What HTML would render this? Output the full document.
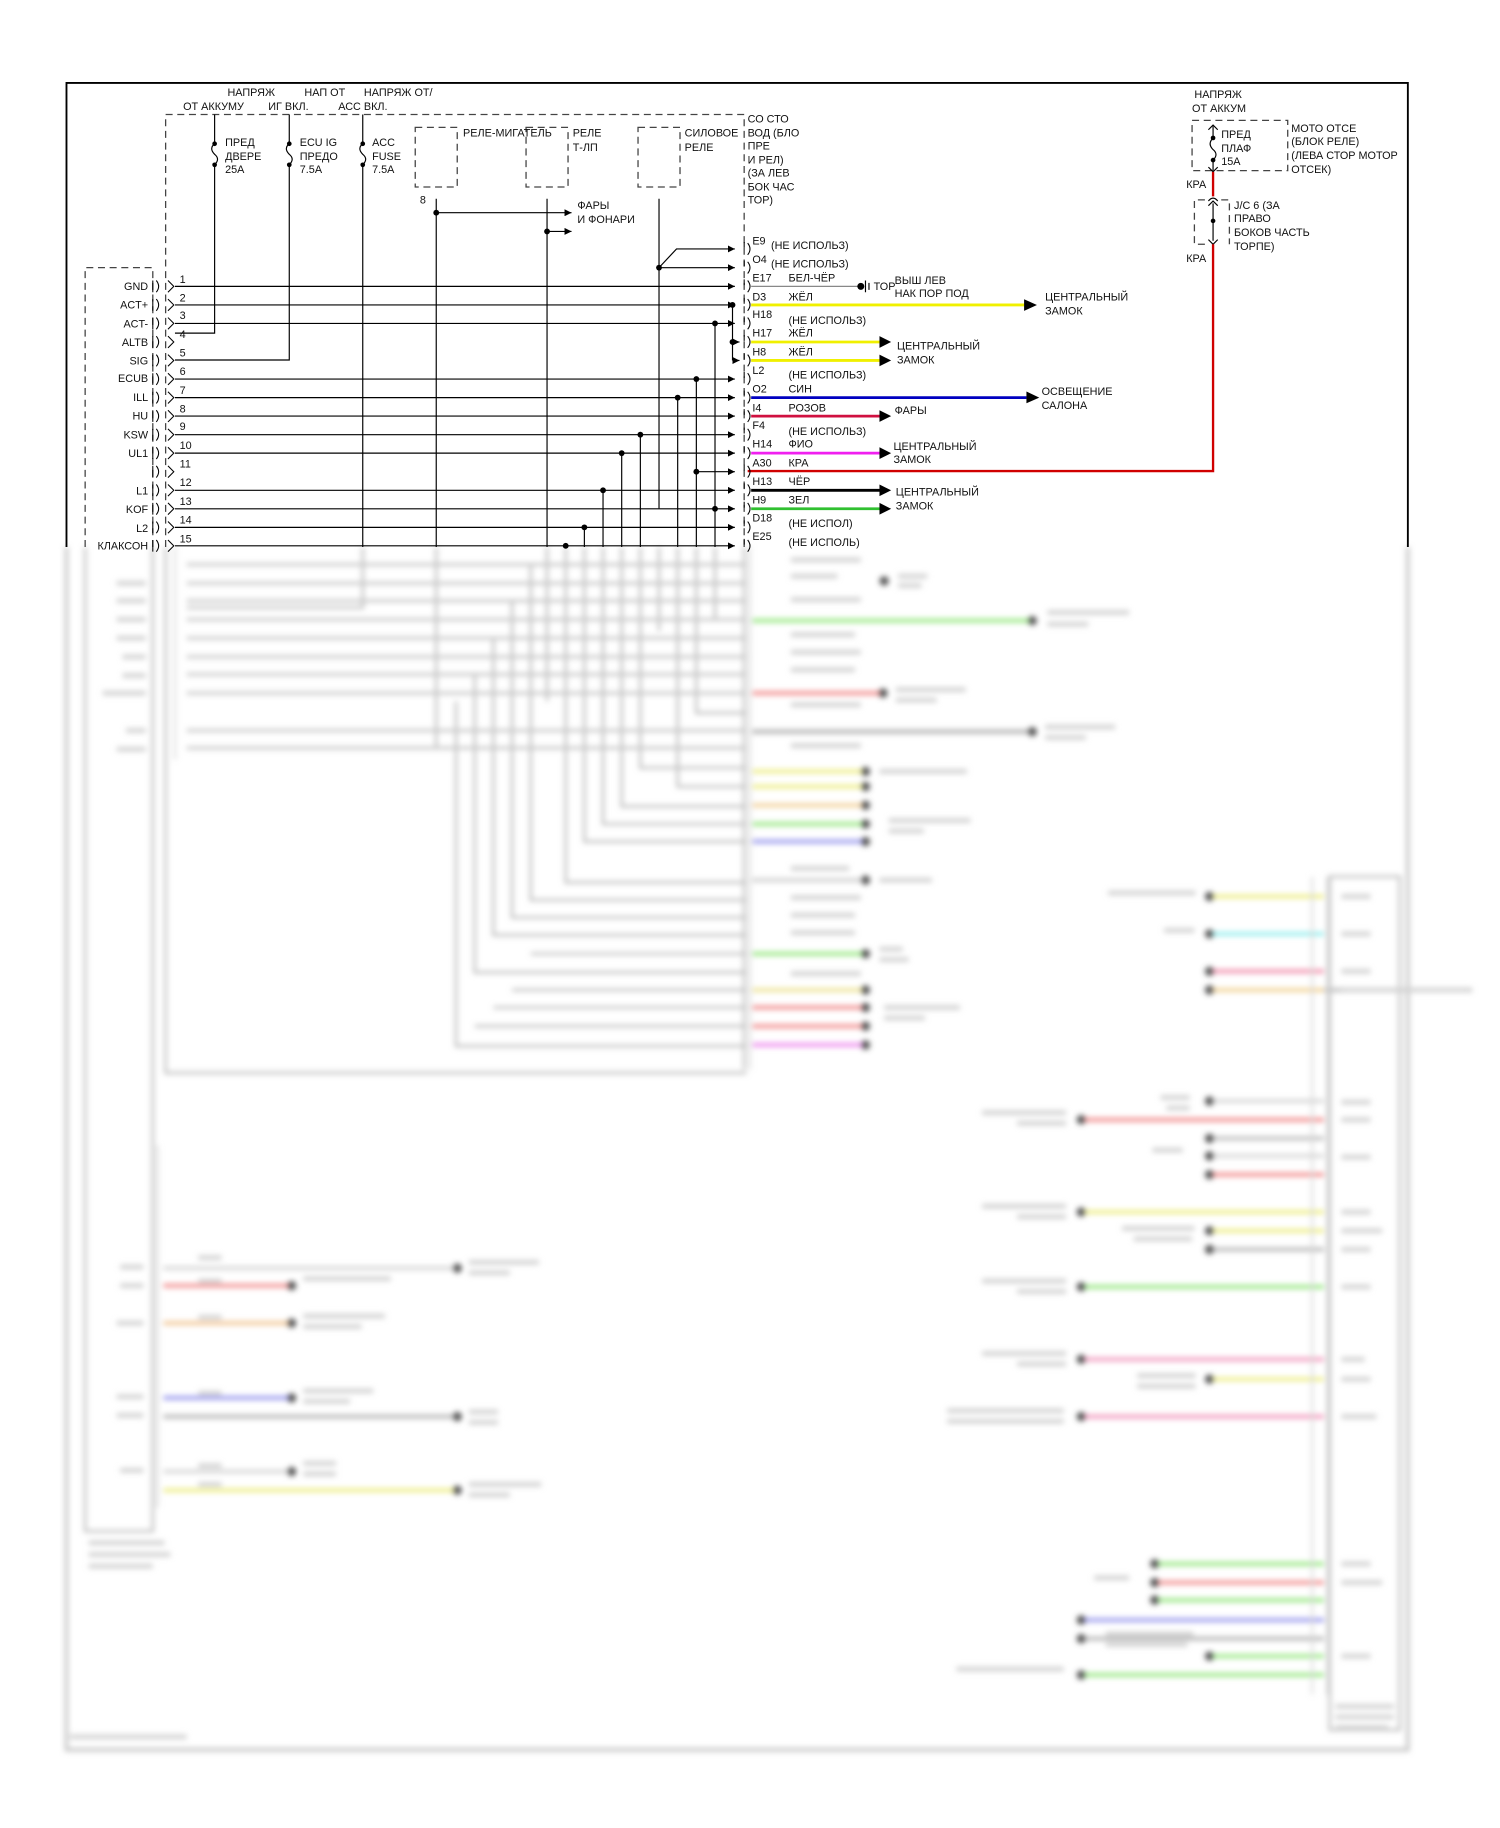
<!DOCTYPE html>
<html><head><meta charset="utf-8"><style>
html,body{margin:0;padding:0;background:#fff;}
svg{display:block;}
text{font-family:"Liberation Sans","DejaVu Sans",sans-serif;font-size:9.3px;fill:#111;}
</style></head><body>
<svg width="1500" height="1828" viewBox="0 0 1286 1564" preserveAspectRatio="none" xmlns="http://www.w3.org/2000/svg">
<defs>
<filter id="bl" x="-5%" y="-5%" width="110%" height="110%"><feGaussianBlur stdDeviation="2.4"/></filter>
<marker id="sa" markerWidth="6" markerHeight="6" refX="6" refY="3" orient="auto" markerUnits="userSpaceOnUse"><path d="M0,0 L6,3 L0,6 z" fill="#000"/></marker>
<path id="cs" d="M131,-5 V5 M134,-5 q4,5 0,10 M144,-5 L149,0 L144,5"/>
<path id="rs" d="M638,-6 V-1 M641,-5 q4,5 0,10"/>
</defs>

<!-- ================= BLURRED LOWER PART ================= -->
<g filter="url(#bl)">
<g stroke="#bdbdbd" stroke-width="2.2" fill="none">
<path d="M57,468 V1497 H1207 V468" stroke="#c4c4c4" stroke-width="3"/>
<path d="M142,468 V918 H640"/>
<path d="M131,468 V1310 H73 V468"/>
<path d="M638,468 V915"/>
<path d="M1140,750 H1200 V1480 H1140 Z"/>
<path d="M311,468 V520 H160"/><path d="M374,468 V640 H160"/><path d="M469,468 V600"/>
<path d="M485,468 V755 H640"/><path d="M501,468 V720 H640"/><path d="M517,468 V705 H640"/><path d="M533,468 V690 H640"/>
<path d="M549,468 V657 H640"/><path d="M565,468 V540"/><path d="M581,468 V673 H640"/><path d="M597,468 V610 H640"/><path d="M613,468 V530"/>
<path d="M455,483 V770 H640"/><path d="M439,515 V785 H640"/><path d="M423,545 V800 H640"/><path d="M407,578 V832 H640"/><path d="M391,600 V895 H640"/>
<path d="M455,816 H640"/><path d="M439,847 H640"/><path d="M423,862 H640"/><path d="M407,878 H640"/>
</g>
<g stroke="#c6c6c6" stroke-width="2.6">
<line x1="160" y1="483" x2="640" y2="483"/><line x1="160" y1="499" x2="640" y2="499"/><line x1="160" y1="514" x2="640" y2="514"/>
<line x1="160" y1="530" x2="640" y2="530"/><line x1="160" y1="546" x2="640" y2="546"/><line x1="160" y1="562" x2="640" y2="562"/>
<line x1="160" y1="577" x2="640" y2="577"/><line x1="160" y1="593" x2="640" y2="593"/><line x1="160" y1="625" x2="640" y2="625"/>
<line x1="160" y1="640" x2="640" y2="640"/>
</g>
<g stroke-width="3.4">
<line x1="645" y1="531" x2="885" y2="531" stroke="#9ae884"/>
<line x1="645" y1="593" x2="755" y2="593" stroke="#f29090"/>
<line x1="645" y1="626" x2="885" y2="626" stroke="#b0b0b0"/>
<line x1="645" y1="660" x2="740" y2="660" stroke="#eeee88"/>
<line x1="645" y1="673" x2="740" y2="673" stroke="#eeee88"/>
<line x1="645" y1="689" x2="740" y2="689" stroke="#f2d098"/>
<line x1="645" y1="705" x2="740" y2="705" stroke="#9ae884"/>
<line x1="645" y1="720" x2="740" y2="720" stroke="#9c9cee"/>
<line x1="645" y1="753" x2="740" y2="753" stroke="#d0d0d0"/>
<line x1="645" y1="816" x2="740" y2="816" stroke="#9ae884"/>
<line x1="645" y1="847" x2="740" y2="847" stroke="#eee498"/>
<line x1="645" y1="862" x2="740" y2="862" stroke="#f29090"/>
<line x1="645" y1="878" x2="740" y2="878" stroke="#f29090"/>
<line x1="645" y1="894" x2="740" y2="894" stroke="#ee90ee"/>
<line x1="1037" y1="767" x2="1135" y2="767" stroke="#eeee88"/>
<line x1="1037" y1="799" x2="1135" y2="799" stroke="#98eeee"/>
<line x1="1037" y1="831" x2="1135" y2="831" stroke="#f294b0"/>
<line x1="1037" y1="847" x2="1135" y2="847" stroke="#f2d498"/>
<line x1="1135" y1="847" x2="1262" y2="847" stroke="#c0c0c0"/>
<line x1="1037" y1="942" x2="1135" y2="942" stroke="#d8d8d8"/>
<line x1="927" y1="958" x2="1135" y2="958" stroke="#f29090"/>
<line x1="1037" y1="974" x2="1135" y2="974" stroke="#c0c0c0"/>
<line x1="1037" y1="989" x2="1135" y2="989" stroke="#d8d8d8"/>
<line x1="1037" y1="1005" x2="1135" y2="1005" stroke="#f29090"/>
<line x1="927" y1="1037" x2="1135" y2="1037" stroke="#eeee88"/>
<line x1="1037" y1="1053" x2="1135" y2="1053" stroke="#eeee88"/>
<line x1="1037" y1="1069" x2="1135" y2="1069" stroke="#b8b8b8"/>
<line x1="927" y1="1101" x2="1135" y2="1101" stroke="#9ae884"/>
<line x1="927" y1="1163" x2="1135" y2="1163" stroke="#f29cc0"/>
<line x1="1037" y1="1180" x2="1135" y2="1180" stroke="#eeee88"/>
<line x1="927" y1="1212" x2="1135" y2="1212" stroke="#f29cc0"/>
<line x1="990" y1="1338" x2="1135" y2="1338" stroke="#9ae884"/>
<line x1="990" y1="1354" x2="1135" y2="1354" stroke="#f29090"/>
<line x1="990" y1="1369" x2="1135" y2="1369" stroke="#9ae884"/>
<line x1="927" y1="1386" x2="1135" y2="1386" stroke="#9c9cee"/>
<line x1="927" y1="1402" x2="1135" y2="1402" stroke="#b8b8b8"/>
<line x1="1037" y1="1417" x2="1135" y2="1417" stroke="#9ae884"/>
<line x1="927" y1="1433" x2="1135" y2="1433" stroke="#9ae884"/>
<line x1="140" y1="1085" x2="392" y2="1085" stroke="#d8d8d8"/>
<line x1="140" y1="1100" x2="250" y2="1100" stroke="#f29090"/>
<line x1="140" y1="1132" x2="250" y2="1132" stroke="#f2c898"/>
<line x1="140" y1="1196" x2="250" y2="1196" stroke="#9c9cee"/>
<line x1="140" y1="1212" x2="392" y2="1212" stroke="#b8b8b8"/>
<line x1="140" y1="1259" x2="250" y2="1259" stroke="#d8d8d8"/>
<line x1="140" y1="1275" x2="392" y2="1275" stroke="#eeee88"/>
</g>
<g stroke="#d4d4d4" stroke-width="1.6" fill="none">
<path d="M1125,750 V1450"/><path d="M1138,750 V1450"/><path d="M135,980 V1290"/><path d="M150,468 V650"/><path d="M643,468 V915"/>
</g>
<g fill="#555">
<circle cx="885" cy="531" r="4"/><circle cx="757" cy="593" r="4"/><circle cx="885" cy="626" r="4"/><circle cx="758" cy="497" r="4"/>
<circle cx="742" cy="660" r="4"/><circle cx="742" cy="673" r="4"/><circle cx="742" cy="689" r="4"/><circle cx="742" cy="705" r="4"/><circle cx="742" cy="720" r="4"/><circle cx="742" cy="753" r="4"/>
<circle cx="742" cy="816" r="4"/><circle cx="742" cy="847" r="4"/><circle cx="742" cy="862" r="4"/><circle cx="742" cy="878" r="4"/><circle cx="742" cy="894" r="4"/>
<circle cx="1037" cy="767" r="4"/><circle cx="1037" cy="799" r="4"/><circle cx="1037" cy="831" r="4"/><circle cx="1037" cy="847" r="4"/><circle cx="1037" cy="942" r="4"/>
<circle cx="927" cy="958" r="4"/><circle cx="1037" cy="974" r="4"/><circle cx="1037" cy="989" r="4"/><circle cx="1037" cy="1005" r="4"/>
<circle cx="927" cy="1037" r="4"/><circle cx="1037" cy="1053" r="4"/><circle cx="1037" cy="1069" r="4"/><circle cx="927" cy="1101" r="4"/>
<circle cx="927" cy="1163" r="4"/><circle cx="1037" cy="1180" r="4"/><circle cx="927" cy="1212" r="4"/>
<circle cx="990" cy="1338" r="4"/><circle cx="990" cy="1354" r="4"/><circle cx="990" cy="1369" r="4"/><circle cx="927" cy="1386" r="4"/><circle cx="927" cy="1402" r="4"/><circle cx="1037" cy="1417" r="4"/><circle cx="927" cy="1433" r="4"/>
<circle cx="392" cy="1085" r="4"/><circle cx="250" cy="1100" r="4"/><circle cx="250" cy="1132" r="4"/><circle cx="250" cy="1196" r="4"/><circle cx="392" cy="1212" r="4"/><circle cx="250" cy="1259" r="4"/><circle cx="392" cy="1275" r="4"/>
</g>
<g fill="#d2d2d2">
<rect x="678" y="477" width="60" height="4"/><rect x="678" y="491" width="40" height="4"/><rect x="678" y="511" width="60" height="4"/><rect x="678" y="541" width="55" height="4"/><rect x="678" y="556" width="60" height="4"/><rect x="678" y="571" width="55" height="4"/><rect x="678" y="601" width="60" height="4"/><rect x="678" y="636" width="60" height="4"/>
<rect x="678" y="741" width="50" height="4"/><rect x="678" y="766" width="60" height="4"/><rect x="678" y="781" width="55" height="4"/><rect x="678" y="796" width="55" height="4"/><rect x="678" y="831" width="60" height="4"/>
<rect x="770" y="491" width="25" height="4"/><rect x="770" y="499" width="20" height="4"/>
<rect x="898" y="522" width="70" height="4"/><rect x="898" y="532" width="35" height="4"/>
<rect x="768" y="588" width="60" height="4"/><rect x="768" y="597" width="35" height="4"/>
<rect x="896" y="620" width="60" height="4"/><rect x="896" y="629" width="35" height="4"/>
<rect x="754" y="658" width="75" height="4"/><rect x="762" y="700" width="70" height="4"/><rect x="762" y="709" width="30" height="4"/><rect x="754" y="751" width="45" height="4"/><rect x="754" y="810" width="20" height="4"/><rect x="754" y="819" width="25" height="4"/><rect x="758" y="860" width="65" height="4"/><rect x="758" y="869" width="35" height="4"/>
<rect x="100" y="497" width="25" height="4"/><rect x="100" y="512" width="25" height="4"/><rect x="100" y="528" width="25" height="4"/><rect x="100" y="544" width="25" height="4"/><rect x="105" y="560" width="20" height="4"/><rect x="105" y="576" width="20" height="4"/><rect x="88" y="591" width="37" height="4"/><rect x="108" y="623" width="17" height="4"/><rect x="100" y="639" width="25" height="4"/>
<rect x="950" y="762" width="75" height="4"/><rect x="998" y="794" width="26" height="4"/><rect x="1150" y="765" width="25" height="4"/><rect x="1150" y="797" width="25" height="4"/><rect x="1150" y="829" width="25" height="4"/><rect x="1150" y="845" width="110" height="4"/>
<rect x="842" y="950" width="72" height="4"/><rect x="872" y="959" width="42" height="4"/><rect x="842" y="1030" width="72" height="4"/><rect x="872" y="1039" width="42" height="4"/><rect x="842" y="1094" width="72" height="4"/><rect x="872" y="1103" width="42" height="4"/><rect x="842" y="1156" width="72" height="4"/><rect x="872" y="1165" width="42" height="4"/><rect x="812" y="1205" width="100" height="4"/><rect x="812" y="1214" width="100" height="4"/><rect x="820" y="1426" width="92" height="4"/>
<rect x="962" y="1049" width="62" height="4"/><rect x="972" y="1058" width="50" height="4"/><rect x="988" y="982" width="26" height="4"/><rect x="995" y="937" width="25" height="4"/><rect x="1000" y="946" width="20" height="4"/><rect x="975" y="1175" width="50" height="4"/><rect x="975" y="1184" width="50" height="4"/><rect x="938" y="1348" width="30" height="4"/><rect x="948" y="1396" width="75" height="4"/><rect x="948" y="1405" width="70" height="4"/>
<rect x="1150" y="941" width="25" height="4"/><rect x="1150" y="956" width="25" height="4"/><rect x="1150" y="988" width="25" height="4"/><rect x="1150" y="1035" width="25" height="4"/><rect x="1150" y="1051" width="35" height="4"/><rect x="1150" y="1067" width="25" height="4"/><rect x="1150" y="1099" width="25" height="4"/><rect x="1150" y="1161" width="20" height="4"/><rect x="1150" y="1178" width="25" height="4"/><rect x="1150" y="1210" width="30" height="4"/><rect x="1150" y="1336" width="25" height="4"/><rect x="1150" y="1352" width="35" height="4"/><rect x="1150" y="1415" width="25" height="4"/>
<rect x="1145" y="1458" width="50" height="4"/><rect x="1145" y="1467" width="50" height="4"/><rect x="1145" y="1476" width="45" height="4"/>
<rect x="76" y="1318" width="65" height="4"/><rect x="76" y="1328" width="70" height="4"/><rect x="76" y="1338" width="55" height="4"/><rect x="60" y="1484" width="100" height="4"/>
<rect x="103" y="1082" width="20" height="4"/><rect x="103" y="1098" width="20" height="4"/><rect x="100" y="1130" width="23" height="4"/><rect x="100" y="1193" width="23" height="4"/><rect x="100" y="1209" width="23" height="4"/><rect x="103" y="1256" width="20" height="4"/>
<rect x="260" y="1092" width="75" height="4"/><rect x="402" y="1078" width="60" height="4"/><rect x="402" y="1087" width="35" height="4"/><rect x="260" y="1124" width="70" height="4"/><rect x="260" y="1133" width="50" height="4"/><rect x="260" y="1188" width="60" height="4"/><rect x="260" y="1197" width="40" height="4"/><rect x="402" y="1206" width="25" height="4"/><rect x="402" y="1215" width="25" height="4"/><rect x="260" y="1250" width="28" height="4"/><rect x="260" y="1259" width="28" height="4"/><rect x="402" y="1268" width="62" height="4"/><rect x="402" y="1277" width="35" height="4"/>
<rect x="170" y="1074" width="20" height="4"/><rect x="170" y="1094" width="20" height="4"/><rect x="170" y="1125" width="20" height="4"/><rect x="170" y="1190" width="20" height="4"/><rect x="170" y="1252" width="20" height="4"/><rect x="170" y="1268" width="20" height="4"/>
</g>
</g>

<!-- ================= SHARP TOP PART ================= -->
<g stroke="#000" stroke-width="1.6" fill="none">
<path d="M57,468 V71 H1207 V468"/>
</g>
<g stroke="#444" stroke-width="1.1" fill="none" stroke-dasharray="6,4">
<path d="M142,468 V98 H638 V468"/>
<path d="M131,468 V229 H73 V468"/>
<rect x="356" y="109" width="36" height="51"/><rect x="451" y="109" width="36" height="51"/><rect x="547" y="109" width="36" height="51"/>
<rect x="1022" y="103" width="82" height="43"/>
<path d="M1033,171 H1024 V209 H1033"/><path d="M1047,171 H1054 V209"/>
</g>
<g stroke="#000" stroke-width="1" fill="none">
<path d="M184,98 V123 M184,141 V285 H150"/><path d="M184,123 q-5,4 0,9 q5,4 0,9"/>
<path d="M248,98 V123 M248,141 V308 H150"/><path d="M248,123 q-5,4 0,9 q5,4 0,9"/>
<path d="M311,98 V123 M311,141 V468"/><path d="M311,123 q-5,4 0,9 q5,4 0,9"/>
<path d="M1040,108 V118 M1040,137 V146"/><path d="M1040,118 q-5,5 0,10 q5,4 0,9"/>
<path d="M1036,111 l4,-4 l4,4 M1036,143 l4,4 l4,-4"/>
<path d="M1036,176 l4,-4 l4,4 M1036,205 l4,4 l4,-4"/>
<path d="M374,170 V468"/><path d="M469,170 V468"/><path d="M565,170 V435"/>
<path d="M565,229 L580,213 H630" marker-end="url(#sa)"/><path d="M565,229 H630" marker-end="url(#sa)"/>
<path d="M374,182 H490" marker-end="url(#sa)"/><path d="M469,198 H490" marker-end="url(#sa)"/>
</g>
<g fill="#000">
<circle cx="184" cy="123" r="2"/><circle cx="184" cy="141" r="2"/><circle cx="248" cy="123" r="2"/><circle cx="248" cy="141" r="2"/><circle cx="311" cy="123" r="2"/><circle cx="311" cy="141" r="2"/>
<circle cx="1040" cy="118" r="2"/><circle cx="1040" cy="137" r="2"/><circle cx="1040" cy="189" r="2"/>
<circle cx="374" cy="182" r="2.5"/><circle cx="469" cy="198" r="2.5"/><circle cx="565" cy="229" r="2.5"/>
</g>
<path d="M1040,147 V168 M1040,209 V403 H641" stroke="#d00000" stroke-width="2" fill="none"/>
<path d="M1036,172 q4,-5 8,0" stroke="#000" fill="none"/>
<line x1="1040" y1="174" x2="1040" y2="206" stroke="#000" stroke-width="1"/>

<g stroke="#000" stroke-width="1" fill="none">
<path d="M150,245 H630" marker-end="url(#sa)"/>
<path d="M150,260.9 H630" marker-end="url(#sa)"/>
<path d="M150,276.7 H630" marker-end="url(#sa)"/>
<path d="M150,324.3 H630" marker-end="url(#sa)"/>
<path d="M150,340.2 H630" marker-end="url(#sa)"/>
<path d="M150,356 H630" marker-end="url(#sa)"/>
<path d="M150,371.9 H630" marker-end="url(#sa)"/>
<path d="M150,387.7 H630" marker-end="url(#sa)"/>
<path d="M597,403.6 H630" marker-end="url(#sa)"/>
<path d="M150,419.5 H630" marker-end="url(#sa)"/>
<path d="M150,435.3 H630" marker-end="url(#sa)"/>
<path d="M150,451.2 H630" marker-end="url(#sa)"/>
<path d="M150,467 H630" marker-end="url(#sa)"/>
<path d="M628,260.9 V308.4"/><path d="M628,292.6 H634" marker-end="url(#sa)"/><path d="M628,308.4 H634" marker-end="url(#sa)"/>
<path d="M613,276.7 V468"/><path d="M597,324.3 V468"/><path d="M581,340.2 V468"/><path d="M549,371.9 V468"/><path d="M533,387.7 V468"/><path d="M517,419.5 V468"/><path d="M501,451.2 V468"/>
</g>
<g fill="#000">
<circle cx="628" cy="260.9" r="2.5"/><circle cx="628" cy="292.6" r="2.5"/><circle cx="613" cy="276.7" r="2.5"/><circle cx="613" cy="435.3" r="2.5"/>
<circle cx="597" cy="324.3" r="2.5"/><circle cx="597" cy="403.6" r="2.5"/><circle cx="581" cy="340.2" r="2.5"/><circle cx="549" cy="371.9" r="2.5"/>
<circle cx="533" cy="387.7" r="2.5"/><circle cx="517" cy="419.5" r="2.5"/><circle cx="501" cy="451.2" r="2.5"/><circle cx="485" cy="467" r="2.5"/>
</g>
<g stroke="#000" stroke-width="0.9" fill="none">
<use href="#cs" y="245"/><use href="#cs" y="260.9"/><use href="#cs" y="276.7"/><use href="#cs" y="292.6"/><use href="#cs" y="308.4"/>
<use href="#cs" y="324.3"/><use href="#cs" y="340.2"/><use href="#cs" y="356"/><use href="#cs" y="371.9"/><use href="#cs" y="387.7"/>
<use href="#cs" y="403.6"/><use href="#cs" y="419.5"/><use href="#cs" y="435.3"/><use href="#cs" y="451.2"/><use href="#cs" y="467"/>
<use href="#rs" y="213"/><use href="#rs" y="229"/><use href="#rs" y="245"/><use href="#rs" y="260.9"/><use href="#rs" y="276.7"/><use href="#rs" y="292.6"/><use href="#rs" y="308.4"/>
<use href="#rs" y="324.3"/><use href="#rs" y="340.2"/><use href="#rs" y="356"/><use href="#rs" y="371.9"/><use href="#rs" y="387.7"/>
<use href="#rs" y="403.6"/><use href="#rs" y="419.5"/><use href="#rs" y="435.3"/><use href="#rs" y="451.2"/><use href="#rs" y="467"/>
</g>
<g stroke-width="2.4" fill="none">
<line x1="644" y1="245" x2="736" y2="245" stroke="#888" stroke-width="1"/>
<line x1="644" y1="260.9" x2="878" y2="260.9" stroke="#f0f000"/>
<line x1="644" y1="292.6" x2="755" y2="292.6" stroke="#f0f000"/>
<line x1="644" y1="308.4" x2="755" y2="308.4" stroke="#f0f000"/>
<line x1="644" y1="340.2" x2="880" y2="340.2" stroke="#0000c0"/>
<line x1="644" y1="356" x2="755" y2="356" stroke="#d01040"/>
<line x1="644" y1="387.7" x2="755" y2="387.7" stroke="#f020f0"/>
<line x1="644" y1="419.5" x2="755" y2="419.5" stroke="#000"/>
<line x1="644" y1="435.3" x2="755" y2="435.3" stroke="#30c030"/>
</g>
<g fill="#000">
<path d="M878,256 L889,260.9 L878,266 z"/><path d="M880,335 L891,340.2 L880,345 z"/>
<path d="M754,287.6 L764,292.6 L754,297.6 z"/><path d="M754,303.4 L764,308.4 L754,313.4 z"/><path d="M754,351 L764,356 L754,361 z"/>
<path d="M754,382.7 L764,387.7 L754,392.7 z"/><path d="M754,414.5 L764,419.5 L754,424.5 z"/><path d="M754,430.3 L764,435.3 L754,440.3 z"/>
<circle cx="738" cy="245" r="3"/>
</g>
<path d="M742,240 V250 M745,242 V248" stroke="#000" stroke-width="1"/>

<text x="195" y="82">НАПРЯЖ</text><text x="157" y="94">ОТ АККУМУ</text>
<text x="261" y="82">НАП ОТ</text><text x="230" y="94">ИГ ВКЛ.</text>
<text x="312" y="82">НАПРЯЖ ОТ/</text><text x="290" y="94">АСС ВКЛ.</text>
<text x="193" y="125">ПРЕД</text><text x="193" y="137">ДВЕРЕ</text><text x="193" y="148">25А</text>
<text x="257" y="125">ECU IG</text><text x="257" y="137">ПРЕДО</text><text x="257" y="148">7.5А</text>
<text x="319" y="125">ACC</text><text x="319" y="137">FUSE</text><text x="319" y="148">7.5А</text>
<text x="397" y="117">РЕЛЕ-МИГАТЕЛЬ</text><text x="491" y="117">РЕЛЕ</text><text x="491" y="129">Т-ЛП</text>
<text x="587" y="117">СИЛОВОЕ</text><text x="587" y="129">РЕЛЕ</text>
<text x="360" y="174" font-size="8">8</text>
<text x="495" y="179">ФАРЫ</text><text x="495" y="191">И ФОНАРИ</text>
<text x="641" y="105">СО СТО</text><text x="641" y="117">ВОД (БЛО</text><text x="641" y="128">ПРЕ</text><text x="641" y="140">И РЕЛ)</text><text x="641" y="151">(ЗА ЛЕВ</text><text x="641" y="163">БОК ЧАС</text><text x="641" y="174">ТОР)</text>
<g text-anchor="end">
<text x="127" y="248">GND</text><text x="127" y="264">ACT+</text><text x="127" y="280">ACT-</text><text x="127" y="296">ALTB</text><text x="127" y="312">SIG</text>
<text x="127" y="327">ECUB</text><text x="127" y="343">ILL</text><text x="127" y="359">HU</text><text x="127" y="375">KSW</text><text x="127" y="391">UL1</text>
<text x="127" y="423">L1</text><text x="127" y="439">KOF</text><text x="127" y="455">L2</text><text x="127" y="470">КЛАКСОН</text>
</g>
<g font-size="8.5">
<text x="154" y="242">1</text><text x="154" y="258">2</text><text x="154" y="273">3</text><text x="154" y="289">4</text><text x="154" y="305">5</text>
<text x="154" y="321">6</text><text x="154" y="337">7</text><text x="154" y="353">8</text><text x="154" y="368">9</text><text x="154" y="384">10</text>
<text x="154" y="400">11</text><text x="154" y="416">12</text><text x="154" y="432">13</text><text x="154" y="448">14</text><text x="154" y="464">15</text>
</g>
<g font-size="9">
<text x="645" y="209">E9</text><text x="661" y="213">(НЕ ИСПОЛЬЗ)</text>
<text x="645" y="225">O4</text><text x="661" y="229">(НЕ ИСПОЛЬЗ)</text>
<text x="645" y="241">E17</text><text x="676" y="241">БЕЛ-ЧЁР</text>
<text x="645" y="257">D3</text><text x="676" y="257">ЖЁЛ</text>
<text x="645" y="272">H18</text><text x="676" y="277">(НЕ ИСПОЛЬЗ)</text>
<text x="645" y="288">H17</text><text x="676" y="288">ЖЁЛ</text>
<text x="645" y="304">H8</text><text x="676" y="304">ЖЁЛ</text>
<text x="645" y="320">L2</text><text x="676" y="324">(НЕ ИСПОЛЬЗ)</text>
<text x="645" y="336">O2</text><text x="676" y="336">СИН</text>
<text x="645" y="352">I4</text><text x="676" y="352">РОЗОВ</text>
<text x="645" y="367">F4</text><text x="676" y="372">(НЕ ИСПОЛЬЗ)</text>
<text x="645" y="383">H14</text><text x="676" y="383">ФИО</text>
<text x="645" y="399">A30</text><text x="676" y="399">КРА</text>
<text x="645" y="415">H13</text><text x="676" y="415">ЧЁР</text>
<text x="645" y="431">H9</text><text x="676" y="431">ЗЕЛ</text>
<text x="645" y="446">D18</text><text x="676" y="451">(НЕ ИСПОЛ)</text>
<text x="645" y="462">E25</text><text x="676" y="467">(НЕ ИСПОЛЬ)</text>
</g>
<text x="749" y="248">ТОР</text>
<text x="767" y="243">ВЫШ ЛЕВ</text><text x="767" y="254">НАК ПОР ПОД</text>
<text x="896" y="257">ЦЕНТРАЛЬНЫЙ</text><text x="896" y="269">ЗАМОК</text>
<text x="769" y="299">ЦЕНТРАЛЬНЫЙ</text><text x="769" y="311">ЗАМОК</text>
<text x="893" y="338">ОСВЕЩЕНИЕ</text><text x="893" y="350">САЛОНА</text>
<text x="767" y="354">ФАРЫ</text>
<text x="766" y="385">ЦЕНТРАЛЬНЫЙ</text><text x="766" y="396">ЗАМОК</text>
<text x="768" y="424">ЦЕНТРАЛЬНЫЙ</text><text x="768" y="436">ЗАМОК</text>
<text x="1024" y="84">НАПРЯЖ</text><text x="1022" y="96">ОТ АККУМ</text>
<text x="1047" y="118">ПРЕД</text><text x="1047" y="130">ПЛАФ</text><text x="1047" y="141">15А</text>
<text x="1107" y="113">МОТО ОТСЕ</text><text x="1107" y="124">(БЛОК РЕЛЕ)</text><text x="1107" y="136">(ЛЕВА СТОР МОТОР</text><text x="1107" y="148">ОТСЕК)</text>
<text x="1017" y="161">КРА</text><text x="1017" y="224">КРА</text>
<text x="1058" y="179">J/C 6 (ЗА</text><text x="1058" y="190">ПРАВО</text><text x="1058" y="202">БОКОВ ЧАСТЬ</text><text x="1058" y="214">ТОРПЕ)</text>
</svg>
</body></html>
